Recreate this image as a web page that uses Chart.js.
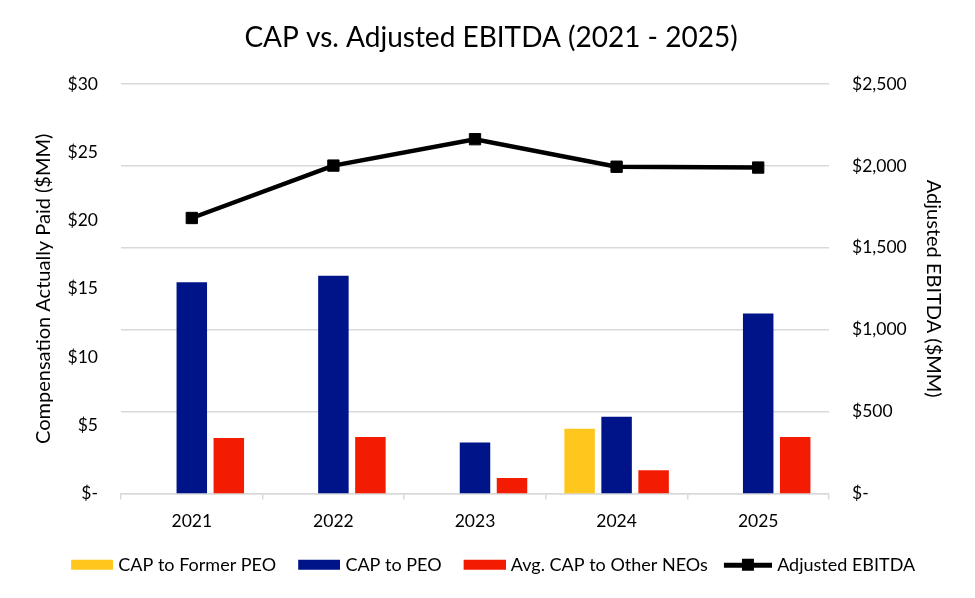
<!DOCTYPE html>
<html><head><meta charset="utf-8">
<script src="https://cdn.jsdelivr.net/npm/chart.js@4.4.1/dist/chart.umd.min.js"></script>
<style>html,body{margin:0;padding:0;background:#fff;} canvas{display:block;}</style>
</head><body>
<canvas id="c" width="975" height="598"></canvas>
<script>
const categories = ['2021', '2022', '2023', '2024', '2025'];
const capFormerPeo = [null, null, null, 4.75, null];
const capPeo = [15.47, 15.96, 3.73, 5.63, 13.18];
const capOtherNeos = [4.06, 4.14, 1.14, 1.70, 4.14];
const adjustedEbitda = [1682, 2002, 2163, 1995, 1990];
const leftTicks = [0, 5, 10, 15, 20, 25, 30];
const rightTicks = [0, 500, 1000, 1500, 2000, 2500];
const seriesNames = ['CAP to Former PEO', 'CAP to PEO', 'Avg. CAP to Other NEOs', 'Adjusted EBITDA'];
const seriesColors = ['#FFC61E', '#001489', '#F41C00', '#000000'];
const titleText = 'CAP vs. Adjusted EBITDA (2021 - 2025)';
const leftAxisTitle = 'Compensation Actually Paid ($MM)';
const rightAxisTitle = 'Adjusted EBITDA ($MM)';

const FONT = 'Lato, Carlito, Calibri, "Open Sans", sans-serif';
const GRID = '#D9D9D9';

function boxImg(color) {
  const c = document.createElement('canvas');
  c.width = 50; c.height = 12;
  const x = c.getContext('2d');
  x.fillStyle = color;
  x.fillRect(8, 1, 42, 10);
  return c;
}
function lineImg(color) {
  const c = document.createElement('canvas');
  c.width = 50; c.height = 14;
  const x = c.getContext('2d');
  x.fillStyle = color;
  x.fillRect(2, 5, 48, 5);
  x.fillRect(20, 1, 12, 12);
  return c;
}

const ctx = document.getElementById('c').getContext('2d');
new Chart(ctx, {
  data: {
    labels: categories,
    datasets: [
      { type: 'line', label: seriesNames[3], data: adjustedEbitda, yAxisID: 'y2', order: 0,
        borderColor: seriesColors[3], backgroundColor: seriesColors[3], borderWidth: 4.5,
        pointStyle: 'rect', pointRadius: 8, pointBorderWidth: 1, pointBackgroundColor: seriesColors[3],
        pointBorderColor: seriesColors[3], tension: 0 },
      { type: 'bar', label: seriesNames[0], data: capFormerPeo, yAxisID: 'y', order: 1,
        backgroundColor: seriesColors[0], categoryPercentage: 0.784, barPercentage: 0.824 },
      { type: 'bar', label: seriesNames[1], data: capPeo, yAxisID: 'y', order: 1,
        backgroundColor: seriesColors[1], categoryPercentage: 0.784, barPercentage: 0.824 },
      { type: 'bar', label: seriesNames[2], data: capOtherNeos, yAxisID: 'y', order: 1,
        backgroundColor: seriesColors[2], categoryPercentage: 0.784, barPercentage: 0.824 }
    ]
  },
  options: {
    responsive: false,
    animation: false,
    devicePixelRatio: 1,
    layout: { padding: { left: 7, right: 0, top: 0, bottom: 14.25 } },
    plugins: {
      tooltip: { enabled: false },
      title: { display: true, text: titleText, color: '#000',
        font: { family: FONT, size: 28, weight: 'normal' }, padding: { top: 21, bottom: 29.4 } },
      legend: {
        position: 'bottom',
        labels: {
          usePointStyle: true, pointStyleWidth: 42.5, padding: 17.75, color: '#000',
          font: { family: FONT, size: 18 },
          generateLabels: () => [0, 1, 2, 3].map(i => ({
            text: seriesNames[i],
            pointStyle: i === 3 ? lineImg(seriesColors[i]) : boxImg(seriesColors[i]),
            fillStyle: seriesColors[i], strokeStyle: seriesColors[i], lineWidth: 0,
            hidden: false, datasetIndex: i === 3 ? 0 : i + 1, fontColor: '#000'
          }))
        }
      }
    },
    scales: {
      x: {
        grid: { display: true, drawOnChartArea: false, drawTicks: true, tickLength: 6, color: GRID, lineWidth: 1.5, offset: true },
        border: { display: true, color: GRID, width: 1.5 },
        ticks: { color: '#000', font: { family: FONT, size: 17.5 }, padding: 11, maxRotation: 0 },
        afterFit: s => { s.height = 44.5; }
      },
      y: {
        position: 'left', min: 0, max: 30,
        grid: { display: false, drawTicks: false },
        border: { display: false },
        ticks: { color: '#000', font: { family: FONT, size: 17.5 }, padding: 23,
          callback: v => v === 0 ? '$-' : '$' + v },
        afterBuildTicks: s => { s.ticks = leftTicks.map(v => ({ value: v })); },
        title: { display: true, text: leftAxisTitle, color: '#000',
          font: { family: FONT, size: 20 }, padding: { top: 25, bottom: 0 } },
        afterFit: s => { s.width = 114; }
      },
      y2: {
        position: 'right', min: 0, max: 2500,
        grid: { display: true, drawTicks: false, color: GRID, lineWidth: 1.5 },
        border: { display: false },
        ticks: { color: '#000', font: { family: FONT, size: 17.5 }, padding: 23,
          callback: v => v === 0 ? '$-' : '$' + v.toLocaleString('en-US') },
        afterBuildTicks: s => { s.ticks = rightTicks.map(v => ({ value: v })); },
        title: { display: true, text: rightAxisTitle, color: '#000',
          font: { family: FONT, size: 20 }, padding: { top: 30, bottom: 0 } },
        afterFit: s => { s.width = 146; }
      }
    }
  }
});
</script>
</body></html>
